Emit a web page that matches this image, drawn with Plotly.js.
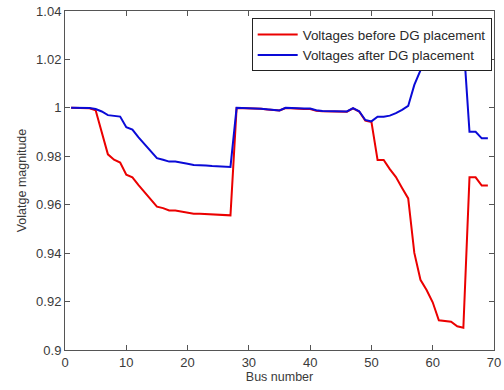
<!DOCTYPE html>
<html>
<head>
<meta charset="utf-8">
<script src="https://cdn.plot.ly/plotly-3.0.1.min.js"></script>
<style>html,body{margin:0;padding:0;background:#fff;}#chart{width:504px;height:390px;}</style>
</head>
<body>
<div id="chart"></div>
<script>
const busNumbers = Array.from({length: 69}, (_, i) => i + 1);

const voltagesBefore = [
  1.0000, 1.0000, 0.9999, 0.9998, 0.9990, 0.9901, 0.9808, 0.9786, 0.9774, 0.9724,
  0.9713, 0.9681, 0.9651, 0.9621, 0.9592, 0.9586, 0.9576, 0.9576, 0.9571, 0.9568,
  0.9563, 0.9563, 0.9562, 0.9560, 0.9558, 0.9557, 0.9556, 0.9999, 0.9999, 0.9997,
  0.9997, 0.9996, 0.9993, 0.9990, 0.9989, 0.9999, 0.9997, 0.9996, 0.9995, 0.9995,
  0.9988, 0.9986, 0.9985, 0.9985, 0.9984, 0.9984, 0.9998, 0.9985, 0.9947, 0.9942,
  0.9785, 0.9785, 0.9747, 0.9714, 0.9669, 0.9626, 0.9401, 0.9290, 0.9248, 0.9197,
  0.9123, 0.9121, 0.9117, 0.9098, 0.9092, 0.9713, 0.9713, 0.9679, 0.9679
];

const voltagesAfter = [
  1.0000, 1.0000, 1.0000, 0.9999, 0.9995, 0.9985, 0.9970, 0.9966, 0.9964, 0.9920,
  0.9910, 0.9878, 0.9850, 0.9820, 0.9792, 0.9786, 0.9778, 0.9778, 0.9772, 0.9769,
  0.9764, 0.9764, 0.9762, 0.9760, 0.9758, 0.9757, 0.9756, 1.0000, 1.0000, 0.9998,
  0.9997, 0.9996, 0.9993, 0.9990, 0.9989, 1.0000, 0.9998, 0.9997, 0.9997, 0.9997,
  0.9990, 0.9987, 0.9986, 0.9986, 0.9985, 0.9985, 0.9999, 0.9986, 0.9950, 0.9944,
  0.9963, 0.9963, 0.9968, 0.9978, 0.9992, 1.0008, 1.0095, 1.0155, 1.0180, 1.0205,
  1.0240, 1.0245, 1.0255, 1.0270, 1.0280, 0.9901, 0.9901, 0.9874, 0.9874
];

const seriesNames = ['Voltages before DG placement', 'Voltages after DG placement'];
const xTitle = 'Bus number';
const yTitle = 'Volatge magnitude';

const font = {family: 'Liberation Sans, Arial, sans-serif', size: 12.5, color: '#3a3a3a'};
const tickFont = {family: 'Liberation Sans Narrow, Liberation Sans, Arial, sans-serif', size: 13, color: '#3a3a3a'};
const legendFont = {family: 'Liberation Sans, Arial, sans-serif', size: 13.4, color: '#2a2a2a'};

const traces = [
  {x: busNumbers, y: voltagesBefore, type: 'scatter', mode: 'lines', name: seriesNames[0],
   line: {color: 'rgb(235,0,0)', width: 2}},
  {x: busNumbers, y: voltagesAfter, type: 'scatter', mode: 'lines', name: seriesNames[1],
   line: {color: 'rgb(10,10,215)', width: 2}}
];

const axisCommon = {
  showgrid: false, zeroline: false, showline: true, linecolor: '#555', linewidth: 1,
  mirror: 'ticks', ticks: 'inside', ticklen: 5, tickcolor: '#555', tickwidth: 1,
  tickfont: tickFont
};

const layout = {
  width: 504, height: 390,
  margin: {l: 65, r: 10, t: 11, b: 40},
  paper_bgcolor: '#fff', plot_bgcolor: '#fff',
  font: font,
  showlegend: true,
  legend: {x: 0.9946, y: 0.9785, xanchor: 'right', yanchor: 'top', bgcolor: '#fff',
           bordercolor: '#222', borderwidth: 1, font: legendFont, tracegroupgap: 0,
           itemwidth: 40},
  xaxis: Object.assign({}, axisCommon, {range: [0, 70], dtick: 10, tick0: 0,
           title: {text: xTitle, font: font, standoff: 3}}),
  yaxis: Object.assign({}, axisCommon, {range: [0.9, 1.04], dtick: 0.02, tick0: 0.9,
           title: {text: yTitle, font: font, standoff: 6}})
};

Plotly.newPlot('chart', traces, layout, {displayModeBar: false, staticPlot: true});
</script>
</body>
</html>
